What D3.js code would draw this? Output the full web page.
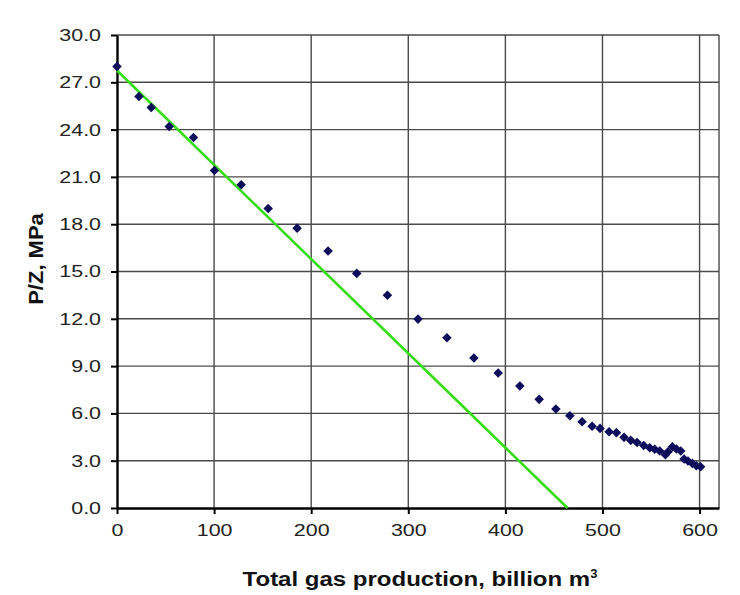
<!DOCTYPE html>
<html>
<head>
<meta charset="utf-8">
<script src="https://cdn.jsdelivr.net/npm/d3@7"></script>
<style>
body { margin: 0; background: #fff; }
text { font-family: "Liberation Sans", Arial, sans-serif; }
</style>
</head>
<body>
<div id="container"></div>
<script>
var width = 740,
    height = 595;

// measured P/Z points: cumulative production (billion m3) and P/Z (MPa)
var production = [0, 22.6, 35.3, 53.8, 78.8, 100.4, 127.9, 155.7, 185.5, 217.4,
    246.9, 278.5, 310, 339.8, 367.6, 392.6, 414.9, 434.8, 452, 466.4,
    479, 489.3, 497.5, 506.8, 514.4, 522.2, 529.1, 535.6, 542.5, 548.7,
    553.8, 559, 564.8, 567.5, 572, 576.1, 580.6, 584, 588, 592.6, 596.7, 601];
var pz = [28.0, 26.1, 25.4, 24.2, 23.5, 21.4, 20.5, 19.0, 17.75, 16.3,
    14.88, 13.49, 11.98, 10.8, 9.51, 8.56, 7.74, 6.89, 6.28, 5.85,
    5.47, 5.18, 5.05, 4.84, 4.78, 4.48, 4.29, 4.16, 3.97, 3.82,
    3.72, 3.61, 3.38, 3.57, 3.89, 3.74, 3.61, 3.11, 2.98, 2.83, 2.68, 2.62];

// early-trend straight line (endpoints)
var trendX = [0, 464];
var trendY = [27.75, 0];

var xTicks = [0, 100, 200, 300, 400, 500, 600];
var yTicks = [0, 3, 6, 9, 12, 15, 18, 21, 24, 27, 30];

var margin = {left: 117, right: 21, top: 35, bottom: 87};

var svg = d3.select("#container")
    .append("svg")
    .attr("width", width)
    .attr("height", height);

var x = d3.scaleLinear().domain([0, 620]).range([margin.left, width - margin.right]);
var y = d3.scaleLinear().domain([0, 30]).range([height - margin.bottom, margin.top]);

// the original picture is a bit wider than tall, so text is stretched
function stretch(sel, k) {
    sel.each(function () {
        var w = this.getComputedTextLength();
        d3.select(this)
            .attr("textLength", w * k)
            .attr("lengthAdjust", "spacingAndGlyphs");
    });
}

// grid
svg.append("g")
    .selectAll("line")
    .data(xTicks.slice(1).concat([620]))
    .enter().append("line")
    .attr("x1", d => x(d)).attr("x2", d => x(d))
    .attr("y1", y(0)).attr("y2", y(30))
    .attr("stroke", "#4a4a4a")
    .attr("stroke-width", 1.4);

svg.append("g")
    .selectAll("line")
    .data(yTicks.slice(1))
    .enter().append("line")
    .attr("x1", x(0)).attr("x2", x(620))
    .attr("y1", d => y(d)).attr("y2", d => y(d))
    .attr("stroke", "#4a4a4a")
    .attr("stroke-width", 1.4);

// axes
var xAxis = svg.append("g")
    .attr("transform", "translate(0," + y(0) + ")")
    .call(d3.axisBottom(x).tickValues(xTicks).tickSize(6).tickSizeOuter(0).tickPadding(10));

var yAxis = svg.append("g")
    .attr("transform", "translate(" + x(0) + ",0)")
    .call(d3.axisLeft(y).tickValues(yTicks).tickSize(6).tickSizeOuter(0).tickPadding(10)
        .tickFormat(d3.format(".1f")));

[xAxis, yAxis].forEach(function (a) {
    a.select(".domain").attr("stroke", "#000").attr("stroke-width", 2.4);
    a.selectAll(".tick line").attr("stroke", "#000").attr("stroke-width", 2);
    a.selectAll(".tick text")
        .attr("fill", "#222")
        .style("font-size", "17px")
        .style("font-family", "'Liberation Sans', Arial, sans-serif")
        .call(stretch, 1.26);
});

// trend line
svg.append("line")
    .attr("x1", x(trendX[0])).attr("y1", y(trendY[0]))
    .attr("x2", x(trendX[1])).attr("y2", y(trendY[1]))
    .attr("stroke", "#33dd11")
    .attr("stroke-width", 2.6);

// points
var pts = production.map(function (d, i) { return [d, pz[i]]; });
svg.append("g")
    .selectAll("path")
    .data(pts)
    .enter().append("path")
    .attr("d", d3.symbol().type(d3.symbolDiamond2).size(58))
    .attr("transform", d => "translate(" + x(d[0]) + "," + y(d[1]) + ")")
    .attr("fill", "#0d0d5c");

// axis titles
svg.append("text")
    .attr("transform", "translate(43,259) rotate(-90)")
    .attr("text-anchor", "middle")
    .style("font-size", "20px")
    .style("font-weight", "bold")
    .attr("fill", "#111")
    .text("P/Z, MPa")
    .call(stretch, 1.1);

var xt = svg.append("text")
    .attr("x", 420)
    .attr("y", 586)
    .attr("text-anchor", "middle")
    .style("font-size", "20px")
    .style("font-weight", "bold")
    .attr("fill", "#111");
xt.append("tspan")
    .text("Total gas production, billion m")
    .call(stretch, 1.2);
xt.append("tspan")
    .attr("dy", "-8")
    .style("font-size", "13px")
    .text("3");
</script>
</body>
</html>
